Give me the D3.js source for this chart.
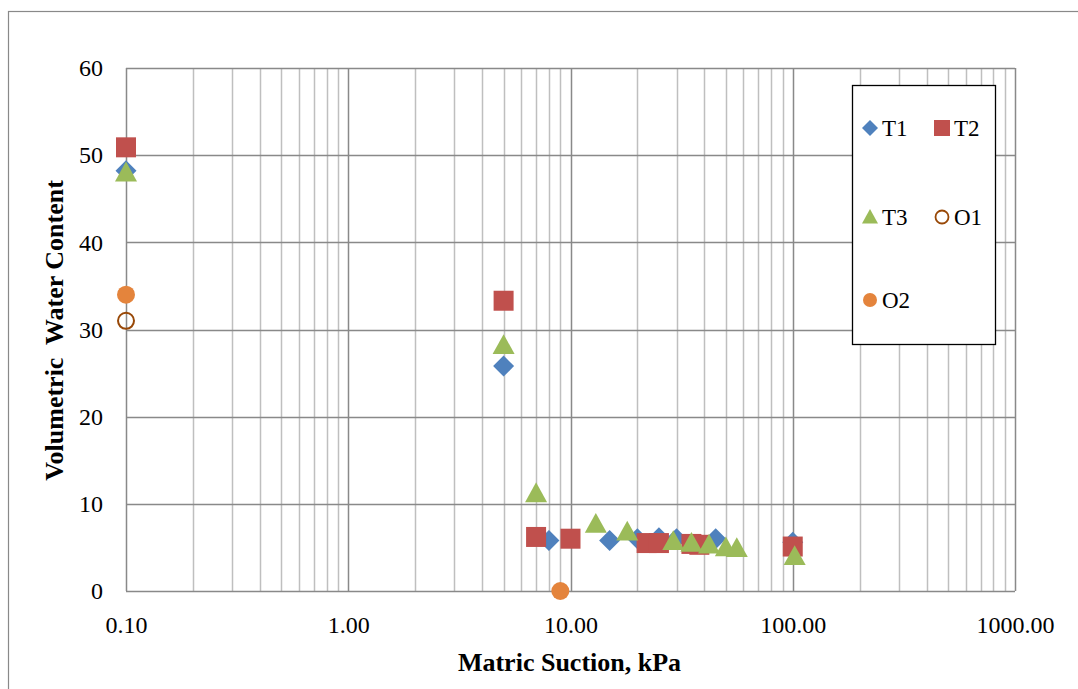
<!DOCTYPE html>
<html>
<head>
<meta charset="utf-8">
<script src="https://cdn.jsdelivr.net/npm/d3@7"></script>
<style>
  body { margin: 0; background: #fff; }
  svg { display: block; font-family: "Liberation Serif", "Times New Roman", serif; }
</style>
</head>
<body>
<svg id="chart" width="1078" height="689"></svg>
<script>
// series data: [suction kPa, volumetric water content]
const t1 = [[0.1, 48.2], [5, 25.8], [8, 5.8], [15, 5.8], [20, 6.0], [25, 6.1], [30, 6.0], [45, 6.0], [100, 5.6]];
const t2 = [[0.1, 50.9], [5, 33.3], [7, 6.2], [10, 6.0], [22, 5.5], [25, 5.5], [35, 5.4], [38, 5.3], [100, 5.1]];
const t3 = [[0.1, 48.0], [5, 28.2], [7, 11.2], [13, 7.7], [18, 6.8], [29, 5.7], [35, 5.5], [42, 5.3], [50, 5.0], [56, 4.9], [102, 4.0]];
const o1 = [[0.1, 31.0]];
const o2 = [[0.1, 34.0], [9, 0]];

const xTicks = [0.1, 1, 10, 100, 1000];
const yTicks = [0, 10, 20, 30, 40, 50, 60];

const series = [
  { name: "T1", data: t1, shape: "diamond", fill: "#4F81BD", stroke: "none" },
  { name: "T2", data: t2, shape: "square", fill: "#C0504D", stroke: "none" },
  { name: "T3", data: t3, shape: "triangle", fill: "#9BBB59", stroke: "none" },
  { name: "O1", data: o1, shape: "circle", fill: "none", stroke: "#984807" },
  { name: "O2", data: o2, shape: "circle", fill: "#E4843C", stroke: "none" }
];

const svg = d3.select("#chart");
const plot = { left: 126, right: 1015, top: 68, bottom: 591 };

const x = d3.scaleLog().domain([0.1, 1000]).range([plot.left, plot.right]);
const y = d3.scaleLinear().domain([0, 60]).range([plot.bottom, plot.top]);

// outer chart frame
svg.append("rect")
  .attr("x", 8.5).attr("y", 11.5)
  .attr("width", 1100).attr("height", 700)
  .attr("fill", "#fff").attr("stroke", "#898989").attr("stroke-width", 1.2);

// minor log gridlines
const minor = [];
for (let d = -1; d < 3; d++) {
  for (let m = 2; m <= 9; m++) minor.push(m * Math.pow(10, d));
}
svg.append("g").selectAll("line")
  .data(minor)
  .join("line")
  .attr("x1", d => Math.round(x(d)) + 0.5).attr("x2", d => Math.round(x(d)) + 0.5)
  .attr("y1", plot.top).attr("y2", plot.bottom)
  .attr("stroke", "#BFBFBF").attr("stroke-width", 1.5);

// major gridlines
svg.append("g").selectAll("line")
  .data(xTicks)
  .join("line")
  .attr("x1", d => Math.round(x(d)) + 0.5).attr("x2", d => Math.round(x(d)) + 0.5)
  .attr("y1", plot.top).attr("y2", plot.bottom)
  .attr("stroke", "#898989").attr("stroke-width", 1.5);

svg.append("g").selectAll("line")
  .data(yTicks)
  .join("line")
  .attr("x1", plot.left).attr("x2", plot.right)
  .attr("y1", d => Math.round(y(d)) + 0.5).attr("y2", d => Math.round(y(d)) + 0.5)
  .attr("stroke", "#898989").attr("stroke-width", 1.5);

// tick labels via axes (no tick marks, no domain line)
const xAxis = svg.append("g")
  .attr("transform", `translate(0,${plot.bottom})`)
  .call(d3.axisBottom(x).tickValues(xTicks).tickFormat(d3.format(".2f")).tickSize(0).tickPadding(25));
xAxis.select(".domain").remove();
xAxis.selectAll("text").attr("font-size", 24).attr("font-family", "Liberation Serif").attr("fill", "#000");

const yAxis = svg.append("g")
  .attr("transform", `translate(${plot.left},0)`)
  .call(d3.axisLeft(y).tickValues(yTicks).tickSize(0).tickPadding(23));
yAxis.select(".domain").remove();
yAxis.selectAll("text").attr("font-size", 24).attr("font-family", "Liberation Serif").attr("fill", "#000");

// axis titles
svg.append("text")
  .attr("x", (plot.left + plot.right) / 2 - 1).attr("y", 671)
  .attr("text-anchor", "middle").attr("font-size", 26).attr("font-weight", "bold")
  .text("Matric Suction, kPa");

svg.append("text")
  .attr("transform", `translate(63,${(plot.top + plot.bottom) / 2 + 1}) rotate(-90)`)
  .attr("text-anchor", "middle").attr("font-size", 26).attr("font-weight", "bold")
  .attr("xml:space", "preserve")
  .text("Volumetric  Water Content");

// marker path generator
function markerPath(shape, s) {
  const h = s / 2;
  if (shape === "diamond") return `M0,${-h}L${h},0L0,${h}L${-h},0Z`;
  if (shape === "square") return `M${-h},${-h}H${h}V${h}H${-h}Z`;
  if (shape === "triangle") return `M0,${-h}L${h},${h * 0.8}L${-h},${h * 0.8}Z`;
  return d3.arc()({ innerRadius: 0, outerRadius: h, startAngle: 0, endAngle: 2 * Math.PI });
}
const markerSize = { diamond: 21, square: 20, triangle: 22, circle: 18 };

series.forEach(s => {
  svg.append("g").selectAll("path")
    .data(s.data)
    .join("path")
    .attr("transform", d => `translate(${x(d[0])},${y(d[1])})`)
    .attr("d", markerPath(s.shape, s.shape === "circle" && s.fill === "none" ? 16 : markerSize[s.shape]))
    .attr("fill", s.fill)
    .attr("stroke", s.stroke)
    .attr("stroke-width", 2);
});

// legend
const legend = svg.append("g");
legend.append("rect")
  .attr("x", 852.5).attr("y", 85.5).attr("width", 143).attr("height", 259)
  .attr("fill", "#fff").attr("stroke", "#000").attr("stroke-width", 1.3);

const legendPos = [[870, 128], [942, 128], [870, 217], [942, 217], [870, 300]];
series.forEach((s, i) => {
  const [lx, ly] = legendPos[i];
  const sz = { diamond: 16, square: 16, triangle: 16, circle: 14 }[s.shape];
  legend.append("path")
    .attr("transform", `translate(${lx},${ly})`)
    .attr("d", markerPath(s.shape, s.shape === "circle" && s.fill === "none" ? 13 : sz))
    .attr("fill", s.fill).attr("stroke", s.stroke).attr("stroke-width", 1.8);
  legend.append("text")
    .attr("x", lx + 12).attr("y", ly + 8)
    .attr("font-size", 23)
    .text(s.name);
});
</script>
</body>
</html>
